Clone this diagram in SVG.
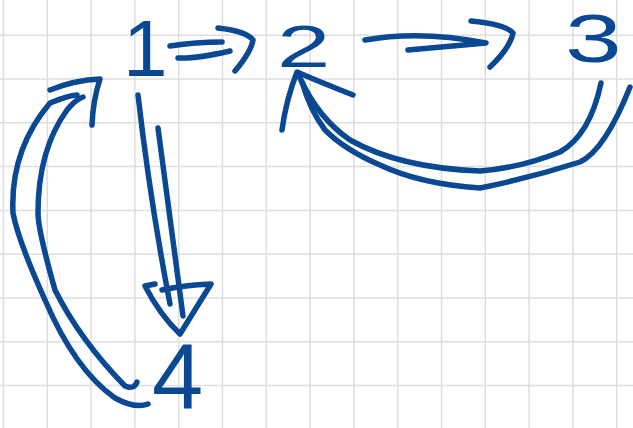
<svg xmlns="http://www.w3.org/2000/svg" width="633" height="428" viewBox="0 0 633 428">
<style>
.grid line{stroke:#dedede;stroke-width:1.5}
.pen{fill:none;stroke:#0a4894;stroke-width:5.5;stroke-linecap:round;stroke-linejoin:round}
.lbl{font-family:"Liberation Sans",Arial,sans-serif;fill:#0a4894}
</style>
<rect width="633" height="428" fill="#ffffff"/>
<g class="grid">
<line x1="3.5" y1="0" x2="3.5" y2="428"/><line x1="47.3" y1="0" x2="47.3" y2="428"/><line x1="91.1" y1="0" x2="91.1" y2="428"/><line x1="134.9" y1="0" x2="134.9" y2="428"/><line x1="178.7" y1="0" x2="178.7" y2="428"/><line x1="222.5" y1="0" x2="222.5" y2="428"/><line x1="266.3" y1="0" x2="266.3" y2="428"/><line x1="310.1" y1="0" x2="310.1" y2="428"/><line x1="353.9" y1="0" x2="353.9" y2="428"/><line x1="397.7" y1="0" x2="397.7" y2="428"/><line x1="441.5" y1="0" x2="441.5" y2="428"/><line x1="485.3" y1="0" x2="485.3" y2="428"/><line x1="529.1" y1="0" x2="529.1" y2="428"/><line x1="572.9" y1="0" x2="572.9" y2="428"/><line x1="616.7" y1="0" x2="616.7" y2="428"/>
<line x1="0" y1="35.2" x2="633" y2="35.2"/><line x1="0" y1="79" x2="633" y2="79"/><line x1="0" y1="122.8" x2="633" y2="122.8"/><line x1="0" y1="166.6" x2="633" y2="166.6"/><line x1="0" y1="210.4" x2="633" y2="210.4"/><line x1="0" y1="254.2" x2="633" y2="254.2"/><line x1="0" y1="298" x2="633" y2="298"/><line x1="0" y1="341.8" x2="633" y2="341.8"/><line x1="0" y1="385.6" x2="633" y2="385.6"/>
</g>
<g id="connectors">
<path class="pen" d="M170,46 Q196,42 222,42"/>
<path class="pen" d="M178,58 Q195,59 230,51"/>
<path class="pen" d="M218,28 Q246,31 253,40 Q251,52 235,71"/>
<path class="pen" d="M365,40 Q420,30 486,43 Q440,47 408,50"/>
<path class="pen" d="M471,21 Q505,24 513,33 Q510,48 490,67"/>
<path class="pen" d="M601,83 Q590,135 560,152 Q520,168 480,171 Q400,168 350,140 Q318,118 300,78"/>
<path class="pen" d="M630,87 Q605,150 580,162 Q530,178 480,188 Q420,184 380,165 Q345,150 325,130 Q310,110 302,82"/>
<path class="pen" d="M353,95 Q320,82 297,72 Q286,100 282,130"/>
<path class="pen" d="M138,95 Q150,200 170,304"/>
<path class="pen" d="M158,128 Q170,220 183,316"/>
<path class="pen" d="M155,284 L145,286 Q160,315 180,334 Q195,310 211,284 Q185,285 162,290"/>
<path class="pen" d="M148,404 Q135,409 115,398 Q75,370 45,300 Q18,240 13,213 Q10,150 50,103 Q70,95 77,95"/>
<path class="pen" d="M137,382 Q134,390 125,386 Q80,340 55,290 Q38,230 38,213 Q38,150 67,110 Q75,100 83,97"/>
<path class="pen" d="M50,90 Q75,80 100,79 Q93,100 92,125"/>
</g>
<g id="node1"><text class="lbl" x="123" y="76" font-size="80">1</text></g>
<g id="node2"><text class="lbl" font-size="60" transform="translate(277,67) scale(1.6,1)">2</text></g>
<g id="node3"><text class="lbl" font-size="68" transform="translate(565,62) scale(1.5,1)">3</text></g>
<g id="node4"><text class="lbl" x="152" y="408" font-size="92">4</text></g>
</svg>
